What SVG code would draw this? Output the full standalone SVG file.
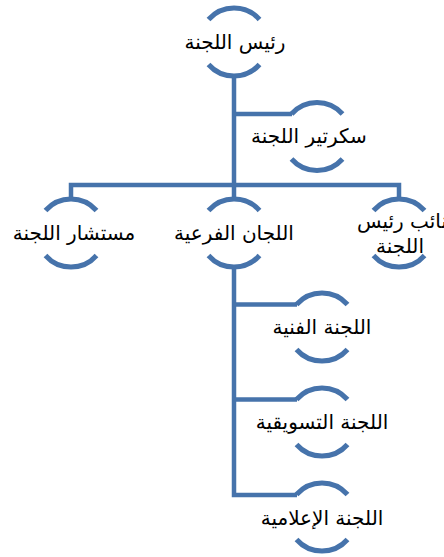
<svg xmlns="http://www.w3.org/2000/svg" xmlns:xlink="http://www.w3.org/1999/xlink" width="444" height="557" viewBox="0 0 444 557">
<style>
.arc{fill:none;stroke:#4673AB;stroke-width:5}
.conn{fill:none;stroke:#4673AB;stroke-width:4.5;stroke-linejoin:miter}
.lbl{font-family:"DejaVu Sans","Noto Sans",sans-serif;font-size:20px;fill:#000;text-anchor:middle}
</style>
<defs>
<path id="arcs" class="arc" d="M-25.5,-22.5 A34,34 0 0 1 25.5,-22.5 M-25.5,22.5 A34,34 0 0 0 25.5,22.5"/>
</defs>
<rect width="444" height="557" fill="#fff"/>
<g id="connectors">
<path class="conn" d="M234,76 V199"/>
<path class="conn" d="M234,114 H292"/>
<path class="conn" d="M71,199 V185 H399 V199"/>
<path class="conn" d="M234,267 V495 H297"/>
<path class="conn" d="M234,304.5 H297"/>
<path class="conn" d="M234,399.5 H297"/>
</g>
<g id="root">
<use xlink:href="#arcs" transform="translate(234,42)"/>
<text class="lbl" x="235" y="49">رئيس اللجنة</text>
</g>
<g id="secretary">
<use xlink:href="#arcs" transform="translate(317,136.5)"/>
<text class="lbl" x="309" y="143">سكرتير اللجنة</text>
</g>
<g id="advisor">
<use xlink:href="#arcs" transform="translate(71,233)"/>
<text class="lbl" x="74" y="240">مستشار اللجنة</text>
</g>
<g id="subcommittees">
<use xlink:href="#arcs" transform="translate(234,233)"/>
<text class="lbl" x="234" y="240">اللجان الفرعية</text>
</g>
<g id="vice">
<use xlink:href="#arcs" transform="translate(399,233)"/>
<text class="lbl" x="402" y="228">نائب رئيس</text>
<text class="lbl" x="400" y="253">اللجنة</text>
</g>
<g id="technical">
<use xlink:href="#arcs" transform="translate(322,327)"/>
<text class="lbl" x="322" y="334">اللجنة الفنية</text>
</g>
<g id="marketing">
<use xlink:href="#arcs" transform="translate(322,422)"/>
<text class="lbl" x="322" y="429">اللجنة التسويقية</text>
</g>
<g id="media">
<use xlink:href="#arcs" transform="translate(322,517)"/>
<text class="lbl" x="322" y="525">اللجنة الإعلامية</text>
</g>
</svg>
